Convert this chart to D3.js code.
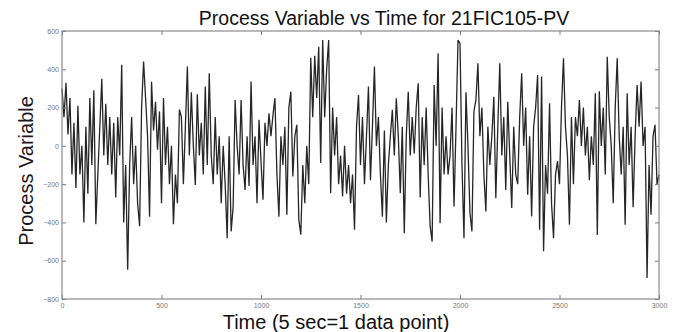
<!DOCTYPE html>
<html>
<head>
<meta charset="utf-8">
<script src="https://cdn.jsdelivr.net/npm/d3@7"></script>
<style>
  body { margin: 0; background: #fff; }
  svg { display: block; font-family: "Liberation Sans", Arial, sans-serif; }
</style>
</head>
<body>
<div id="chart"></div>
<script>
const step = 10;

// values, one every 10 data points, 0..3000
const pv = [
  300, 150, 330, 60, 250, -150, 120, -220, 210, -150,
  0, -400, 100, -250, 250, -100, 290, -410, -150, 100,
  350, -50, 220, -100, 150, -150, 120, -270, 150, -50,
  423, -400, -100, -647, -100, 150, -200, 0, -300, -420,
  200, 440, 250, 50, -370, 335, 80, 230, -20, 180,
  -300, 250, -100, 100, -200, 0, -410, -150, -300, 190,
  150, -200, 100, 414, -50, 280, 0, -204, 270, -50,
  120, -150, 310, -100, 379, -50, -200, 150, -150, 50,
  -300, 0, -200, -482, 50, -447, -320, 240, 0, -150,
  240, -100, -230, 50, -210, 336, -100, 50, -300, 136,
  -80, -282, 120, 0, 170, 50, 160, 249, -150, -370,
  50, -100, 100, -360, 200, 283, -160, 50, 110, -386,
  -464, -100, -300, 0, -200, 460, 150, 470, 250, 518,
  -90, 553, 150, 400, 553, -247, 200, -50, 150, -200,
  -50, -264, 0, -250, -100, -300, -150, -438, 100, 266,
  -100, 150, -200, 50, 310, -180, 100, 414, 0, 150,
  -150, -370, 80, -400, -100, 50, 188, -50, 249, 50,
  -247, 100, -456, 50, 283, -50, 150, -40, 200, 327,
  -270, 150, -100, 200, -150, -421, -500, 318, 0, 484,
  -404, 200, -150, 50, -150, -50, 200, -317, 100, 553,
  536, -100, -482, 280, 0, -351, -447, 180, 240, 431,
  50, 200, -150, -343, 100, -100, 50, 257, -273, 100,
  431, -50, 150, -230, 230, -50, -325, 100, -150, -200,
  150, 379, 0, 200, -255, 50, -369, 100, 200, 370,
  -438, 362, -551, -100, -250, 223, -300, -482, -150, -80,
  -200, 200, 458, 100, -50, -412, 150, -200, 150, 50,
  240, 0, 200, -50, 100, -180, 50, -100, 275, -465,
  285, 0, 200, -150, 466, 150, 0, -300, 200, 458,
  50, -150, 100, -412, 275, -100, 100, -320, 50, 318,
  100, 336, 0, 100, -690, -100, -360, 50, 110, -200,
  -150
];

const xTicks = [0, 500, 1000, 1500, 2000, 2500, 3000];
const yTicks = [-800, -600, -400, -200, 0, 200, 400, 600];

const titleText = 'Process Variable vs Time for 21FIC105-PV';
const xLabel = 'Time (5 sec=1 data point)';
const yLabel = 'Process Variable';

const W = 678, H = 332;
const margin = { top: 31, right: 19, bottom: 33, left: 62 };
const width = W - margin.left - margin.right;
const height = H - margin.top - margin.bottom;

const svg = d3.select('#chart').append('svg')
  .attr('width', W)
  .attr('height', H);

const g = svg.append('g')
  .attr('transform', `translate(${margin.left},${margin.top})`);

const x = d3.scaleLinear().domain([0, 3000]).range([0, width]);
const y = d3.scaleLinear().domain([-800, 600]).range([height, 0]);

// the trace
const data = pv.map((v, i) => ({ t: i * step, v: v }));
g.append('path')
  .datum(data)
  .attr('fill', 'none')
  .attr('stroke', '#262626')
  .attr('stroke-width', 1.3)
  .attr('stroke-linejoin', 'bevel')
  .attr('d', d3.line().x(d => x(d.t)).y(d => y(d.v)));

// axes, ticks pointing inward on all four sides
const tickCol = '#7a7a7a';
function styleAxis(sel) {
  sel.select('.domain').remove();
  sel.selectAll('line').attr('stroke', tickCol);
  sel.selectAll('text')
    .attr('fill', '#777')
    .attr('font-size', 7)
    .attr('font-family', '"Liberation Sans", Arial, sans-serif');
}

g.append('g')
  .attr('transform', `translate(0,${height})`)
  .call(d3.axisBottom(x).tickValues(xTicks).tickSize(-4).tickPadding(4).tickFormat(d3.format('d')))
  .call(styleAxis);
g.append('g')
  .call(d3.axisTop(x).tickValues(xTicks).tickSize(-4).tickFormat(''))
  .call(styleAxis);
g.append('g')
  .call(d3.axisLeft(y).tickValues(yTicks).tickSize(-4).tickPadding(3).tickFormat(d3.format('d')))
  .call(styleAxis);
g.append('g')
  .attr('transform', `translate(${width},0)`)
  .call(d3.axisRight(y).tickValues(yTicks).tickSize(-4).tickFormat(''))
  .call(styleAxis);

// plot frame
g.append('rect')
  .attr('width', width)
  .attr('height', height)
  .attr('fill', 'none')
  .attr('stroke', '#8a8a8a')
  .attr('stroke-width', 1.2);

// titles
svg.append('text')
  .attr('x', 384)
  .attr('y', 25)
  .attr('text-anchor', 'middle')
  .attr('font-size', 19.5)
  .attr('fill', '#111')
  .text(titleText);

svg.append('text')
  .attr('x', 336)
  .attr('y', 329)
  .attr('text-anchor', 'middle')
  .attr('font-size', 20)
  .attr('fill', '#111')
  .text(xLabel);

svg.append('text')
  .attr('transform', 'translate(33,171) rotate(-90)')
  .attr('text-anchor', 'middle')
  .attr('font-size', 20)
  .attr('fill', '#1c1620')
  .text(yLabel);
</script>
</body>
</html>
